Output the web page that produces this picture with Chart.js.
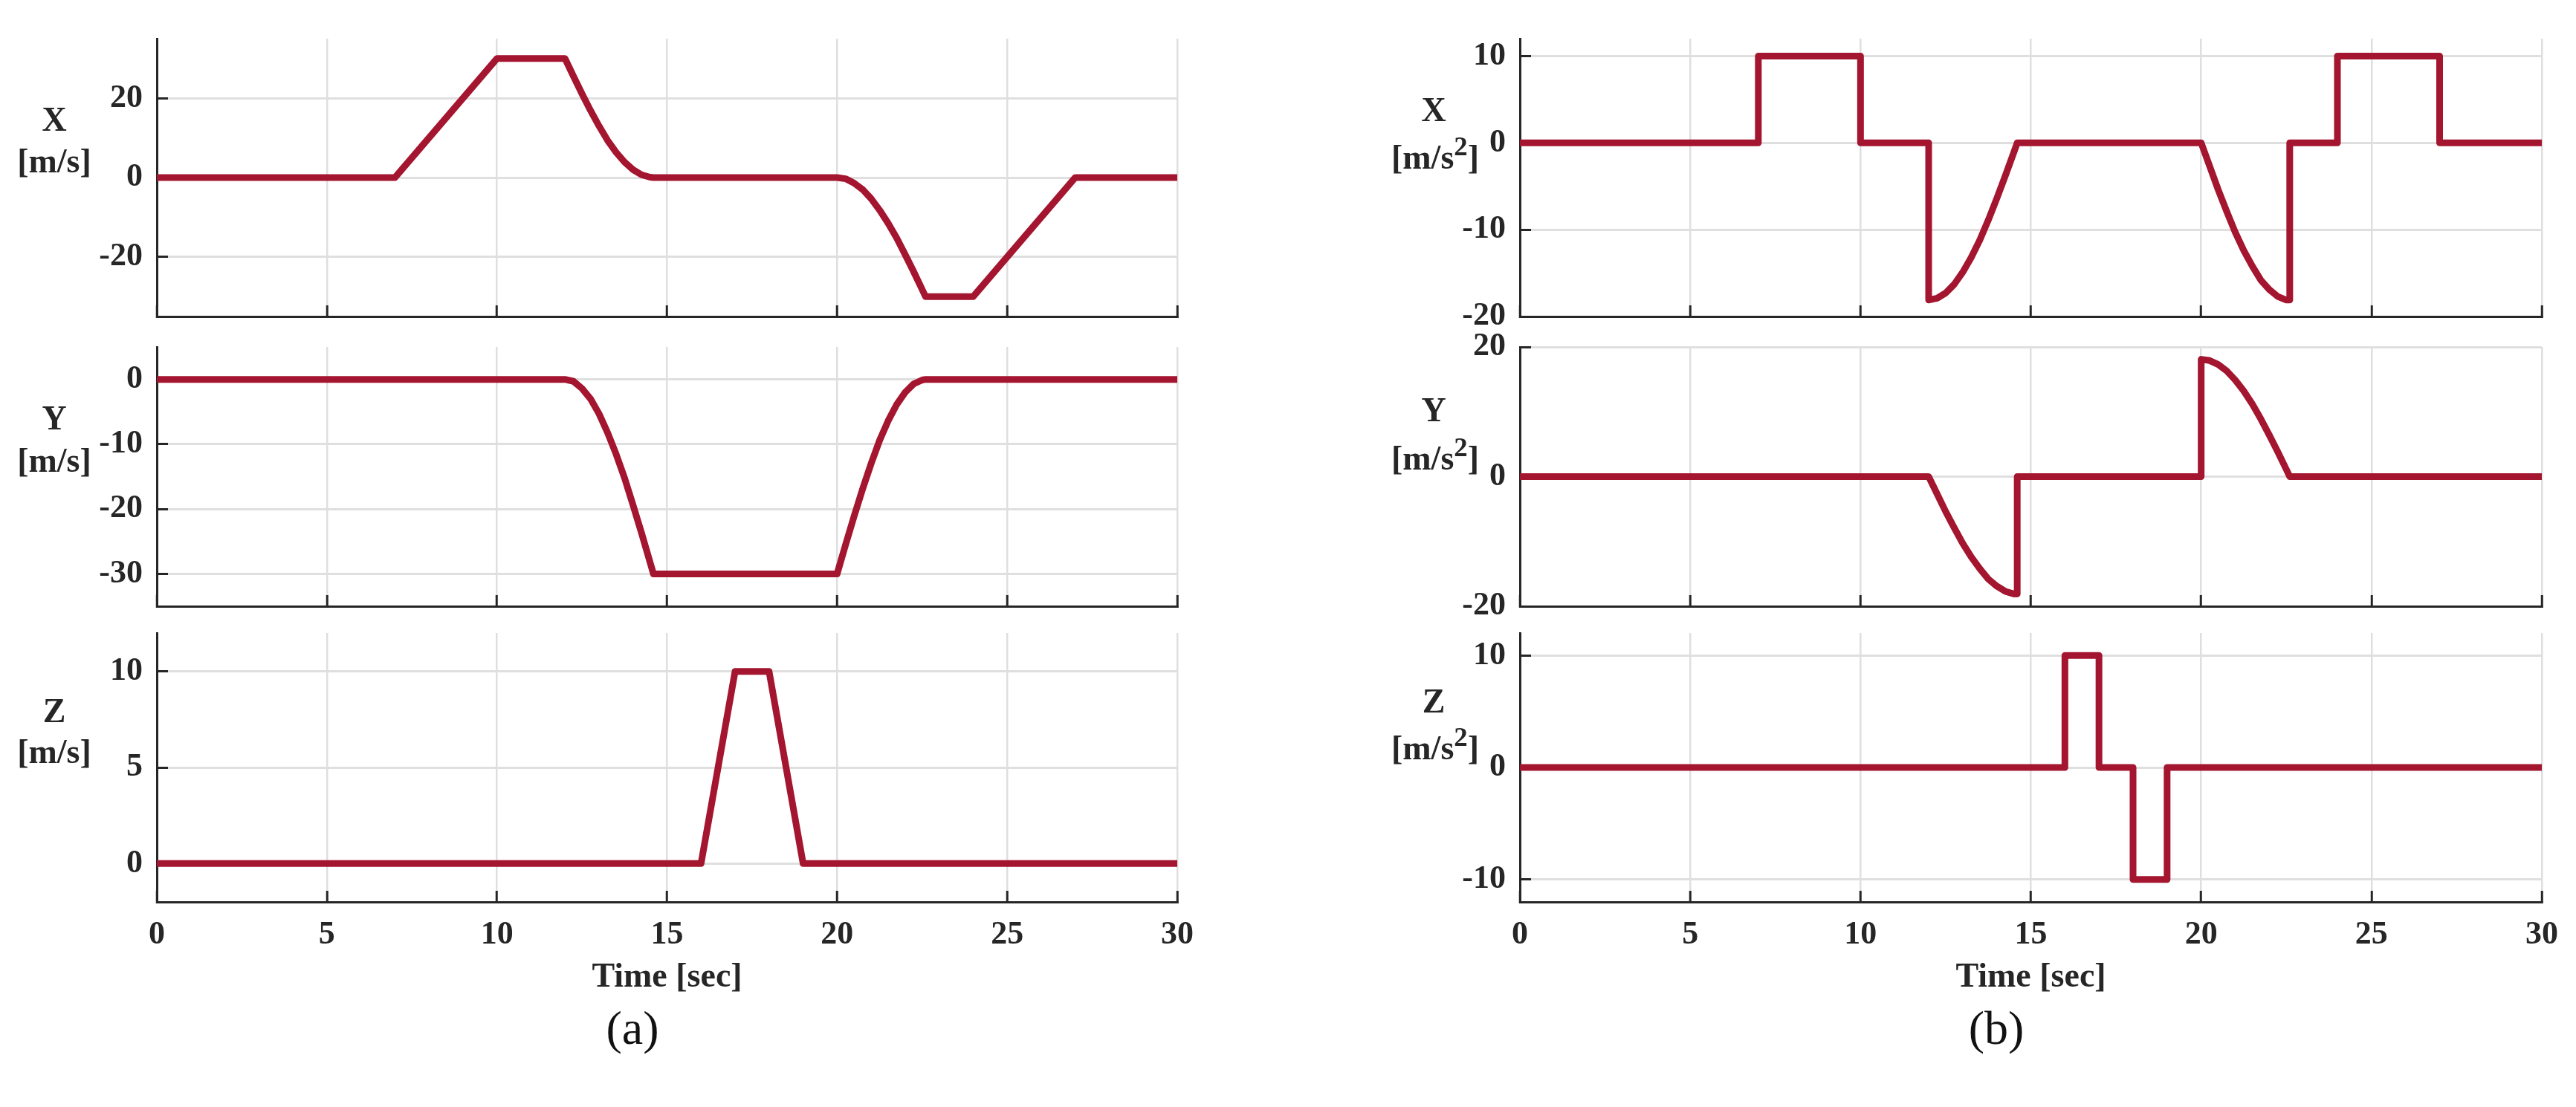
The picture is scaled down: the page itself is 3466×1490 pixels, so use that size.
<!DOCTYPE html>
<html>
<head>
<meta charset="utf-8">
<title>Velocity and acceleration profiles</title>
<script src="https://cdn.jsdelivr.net/npm/chart.js@4.4.1/dist/chart.umd.min.js"></script>
<style>
  html, body { margin: 0; padding: 0; background: #fff; }
  #fig { position: relative; width: 3466px; height: 1490px; background: #fff; overflow: hidden; }
  #fig canvas { position: absolute; }
  .lbl {
    position: absolute; transform: translate(-50%, -50%);
    font-family: 'Liberation Serif', 'Times New Roman', serif; font-weight: bold;
    font-size: 46px; line-height: 1; color: #262626; white-space: nowrap;
  }
  .sq { font-size: 0.8em; position: relative; top: -0.5em; }
  .cap {
    position: absolute; transform: translate(-50%, -50%);
    font-family: 'Liberation Serif', 'Times New Roman', serif;
    font-size: 64px; line-height: 1; color: #111;
  }
</style>
</head>
<body>
<div id="fig">
  <canvas id="velX"></canvas>
  <canvas id="velY"></canvas>
  <canvas id="velZ"></canvas>
  <canvas id="accX"></canvas>
  <canvas id="accY"></canvas>
  <canvas id="accZ"></canvas>

  <div class="lbl" style="left:73px;top:161px">X</div>
  <div class="lbl" style="left:73px;top:217px">[m/s]</div>
  <div class="lbl" style="left:73px;top:563px">Y</div>
  <div class="lbl" style="left:73px;top:620px">[m/s]</div>
  <div class="lbl" style="left:73px;top:957px">Z</div>
  <div class="lbl" style="left:73px;top:1012px">[m/s]</div>

  <div class="lbl" style="left:1929px;top:148px">X</div>
  <div class="lbl" style="left:1931px;top:212px">[m/s<span class="sq">2</span>]</div>
  <div class="lbl" style="left:1929px;top:552px">Y</div>
  <div class="lbl" style="left:1931px;top:617px">[m/s<span class="sq">2</span>]</div>
  <div class="lbl" style="left:1929px;top:944px">Z</div>
  <div class="lbl" style="left:1931px;top:1007px">[m/s<span class="sq">2</span>]</div>

  <div class="cap" style="left:851px;top:1384px">(a)</div>
  <div class="cap" style="left:2686px;top:1384px">(b)</div>
</div>

<script>
// time axis
const timeTicks = [0, 5, 10, 15, 20, 25, 30];

// (a) velocities [m/s]
const velXTime = [0, 7, 10, 12, 12.25, 12.5, 12.75, 13, 13.25, 13.5, 13.75, 14, 14.25, 14.5, 14.6,
                  20, 20.25, 20.5, 20.75, 21, 21.25, 21.5, 21.75, 22, 22.25, 22.5, 22.6, 24, 27, 30];
const velXVal  = [0, 0, 30, 30, 25.5, 21.1, 16.9, 13.0, 9.4, 6.4, 3.9, 2.0, 0.7, 0.1, 0,
                  0, -0.3, -1.4, -3.0, -5.3, -8.2, -11.5, -15.2, -19.4, -23.7, -28.2, -30, -30, 0, 0];
const velXTicks = [-20, 0, 20];

const velYTime = [0, 12, 12.25, 12.5, 12.75, 13, 13.25, 13.5, 13.75, 14, 14.25, 14.5, 14.6,
                  20, 20.25, 20.5, 20.75, 21, 21.25, 21.5, 21.75, 22, 22.25, 22.5, 22.6, 30];
const velYVal  = [0, 0, -0.3, -1.4, -3.0, -5.3, -8.2, -11.5, -15.2, -19.4, -23.7, -28.2, -30,
                  -30, -25.5, -21.1, -16.9, -13.0, -9.4, -6.4, -3.9, -2.0, -0.7, -0.1, 0, 0];
const velYTicks = [-30, -20, -10, 0];

const velZTime = [0, 16, 17, 18, 19, 30];
const velZVal  = [0, 0, 10, 10, 0, 0];
const velZTicks = [0, 5, 10];

// (b) accelerations [m/s^2]
const accXTime = [0, 7, 7, 10, 10, 12,
                  12, 12.25, 12.5, 12.75, 13, 13.25, 13.5, 13.75, 14, 14.25, 14.5, 14.6,
                  20, 20.25, 20.5, 20.75, 21, 21.25, 21.5, 21.75, 22, 22.25, 22.5, 22.6,
                  22.6, 24, 24, 27, 27, 30];
const accXVal  = [0, 0, 10, 10, 0, 0,
                  -18.1, -17.9, -17.3, -16.3, -14.9, -13.2, -11.2, -8.9, -6.4, -3.8, -1.1, 0,
                  0, -2.7, -5.4, -7.9, -10.3, -12.4, -14.2, -15.8, -16.9, -17.7, -18.1, -18.1,
                  0, 0, 10, 10, 0, 0];
const accXTicks = [-20, -10, 0, 10];

const accYTime = [0, 12, 12.25, 12.5, 12.75, 13, 13.25, 13.5, 13.75, 14, 14.25, 14.5, 14.6,
                  14.6, 20, 20, 20.25, 20.5, 20.75, 21, 21.25, 21.5, 21.75, 22, 22.25, 22.5, 22.6, 30];
const accYVal  = [0, 0, -2.7, -5.4, -7.9, -10.3, -12.4, -14.2, -15.8, -16.9, -17.7, -18.1, -18.1,
                  0, 0, 18.1, 17.9, 17.3, 16.3, 14.9, 13.2, 11.2, 8.9, 6.4, 3.8, 1.1, 0, 0];
const accYTicks = [-20, 0, 20];

const accZTime = [0, 16, 16, 17, 17, 18, 18, 19, 19, 30];
const accZVal  = [0, 0, 10, 10, 0, 0, -10, -10, 0, 0];
const accZTicks = [-10, 0, 10];

const LINE_RED = '#a4152f';
const AXIS_INK = '#262626';
const GRID_GRAY = '#dfdfdf';

Chart.defaults.font.family = "'Liberation Serif', 'Times New Roman', serif";
Chart.defaults.font.weight = 'bold';
Chart.defaults.font.size = 44;
Chart.defaults.color = AXIS_INK;

// plot area boxes [left, right] and [top, bottom] in page pixels
const leftCol = [211, 1584];
const rightCol = [2045, 3420];
const rows = [[52, 426], [467, 816], [852, 1214]];

function drawPanel(id, col, row, times, values, yTicks, yMin, yMax, bottomRow) {
    const YW = 150, PT = 30, PR = 40;
    const XH = bottomRow ? 130 : 25;
    const canvas = document.getElementById(id);
    canvas.width = YW + (col[1] - col[0]) + PR;
    canvas.height = PT + (row[1] - row[0]) + XH;
    canvas.style.left = (col[0] - YW) + 'px';
    canvas.style.top = (row[0] - PT) + 'px';

    // keep the plot area exactly where the reference has it
    const noPad = s => { s.paddingLeft = s.paddingRight = s.paddingTop = s.paddingBottom = 0; };

    return new Chart(canvas.getContext('2d'), {
        type: 'line',
        data: {
            datasets: [{
                data: times.map((t, i) => ({ x: t, y: values[i] })),
                borderColor: LINE_RED,
                borderWidth: 9,
                borderJoinStyle: 'round',
                pointRadius: 0,
                tension: 0,
                fill: false
            }]
        },
        options: {
            responsive: false,
            animation: false,
            devicePixelRatio: 1,
            layout: { padding: { left: 0, top: PT, right: PR, bottom: 0 } },
            plugins: { legend: { display: false }, tooltip: { enabled: false } },
            scales: {
                x: {
                    type: 'linear',
                    min: 0,
                    max: 30,
                    afterBuildTicks: s => { s.ticks = timeTicks.map(v => ({ value: v })); },
                    afterFit: s => { s.height = XH; noPad(s); },
                    grid: { color: GRID_GRAY, lineWidth: 2.5, tickLength: -15, tickColor: AXIS_INK, tickWidth: 3 },
                    border: { display: true, color: AXIS_INK, width: 3 },
                    ticks: { display: bottomRow, padding: 33, maxRotation: 0 },
                    title: { display: bottomRow, text: 'Time [sec]', font: { size: 46 }, padding: 0 }
                },
                y: {
                    type: 'linear',
                    min: yMin,
                    max: yMax,
                    afterBuildTicks: s => { s.ticks = yTicks.map(v => ({ value: v })); },
                    afterFit: s => { s.width = YW; noPad(s); },
                    grid: { color: GRID_GRAY, lineWidth: 3, tickLength: -15, tickColor: AXIS_INK, tickWidth: 3 },
                    border: { display: true, color: AXIS_INK, width: 3 },
                    ticks: { padding: 34 }
                }
            }
        }
    });
}

drawPanel('velX', leftCol, rows[0], velXTime, velXVal, velXTicks, -35, 35, false);
drawPanel('velY', leftCol, rows[1], velYTime, velYVal, velYTicks, -35, 5, false);
drawPanel('velZ', leftCol, rows[2], velZTime, velZVal, velZTicks, -2, 12, true);
drawPanel('accX', rightCol, rows[0], accXTime, accXVal, accXTicks, -20, 12, false);
drawPanel('accY', rightCol, rows[1], accYTime, accYVal, accYTicks, -20, 20, false);
drawPanel('accZ', rightCol, rows[2], accZTime, accZVal, accZTicks, -12, 12, true);
</script>
</body>
</html>
